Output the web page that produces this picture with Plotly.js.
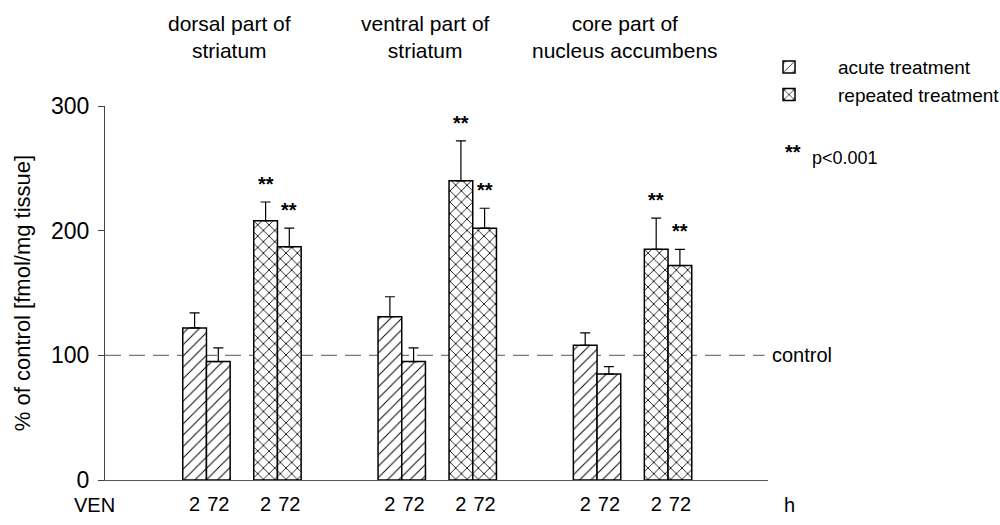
<!DOCTYPE html>
<html>
<head>
<meta charset="utf-8">
<script src="https://cdn.plot.ly/plotly-3.0.1.min.js"></script>
<style>html,body{margin:0;padding:0;background:#fff;}#chart{width:1000px;height:525px;}</style>
</head>
<body>
<div id="chart"></div>
<script>
// ---- data ----
const regions = ["dorsal part of<br>striatum", "ventral part of<br>striatum", "core part of<br>nucleus accumbens"];
const timeLabels = ["2", "72"];              // hours after VEN
const acuteMean = [122, 95, 131, 95, 108, 85];
const acuteErr  = [12, 11, 16, 11, 10, 6];
const repeatedMean = [208, 187, 240, 202, 185, 172];
const repeatedErr  = [15, 15, 32, 16, 25, 13];
const repeatedSig  = ["**", "**", "**", "**", "**", "**"];
const controlLevel = 100;

// ---- layout constants (axis units = pixels from plot left) ----
const FIRST = 89.6, REGION_STEP = 195.3, PAIR_STEP = 71, BAR_W = 23.7;
const FONT = "Liberation Sans, Arial, sans-serif";

function centers(j) {
  const out = [];
  for (let i = 0; i < regions.length; i++)
    for (let k = 0; k < timeLabels.length; k++)
      out.push(FIRST + i * REGION_STEP + j * PAIR_STEP + k * BAR_W);
  return out;
}
const xa = centers(0), xr = centers(1);

function barTrace(name, x, y, err, shape, size, sol) {
  return {
    type: "bar", name: name, x: x, y: y, width: BAR_W,
    marker: {color: "#fff", line: {color: "#000", width: 1.5},
             pattern: {shape: shape, fgcolor: "#000", bgcolor: "#fff", size: size, solidity: sol}},
    error_y: {type: "data", symmetric: false, array: err, arrayminus: err.map(() => 0),
              color: "#000", thickness: 1.2, width: 5},
    hoverinfo: "skip"
  };
}
const traces = [
  barTrace("acute treatment", xa, acuteMean, acuteErr, "/", 8, 0.12),
  barTrace("repeated treatment", xr, repeatedMean, repeatedErr, "x", 8, 0.2)
];

const tickvals = [], ticktext = [];
xa.concat(xr).forEach((v, idx) => { tickvals.push(v); ticktext.push(timeLabels[idx % 2]); });

const annotations = [];
regions.forEach((r, i) => {
  annotations.push({text: r, xref: "x", yref: "paper", x: FIRST + i * REGION_STEP + (PAIR_STEP + BAR_W) / 2 - 12 + (i === 2 ? 4 : 0),
    y: 1.184, xanchor: "center", yanchor: "middle", showarrow: false, font: {family: FONT, size: 21, color: "#000"}});
});
repeatedMean.forEach((v, i) => {
  annotations.push({text: "<b>" + repeatedSig[i] + "</b>", xref: "x", yref: "y", x: xr[i], y: v + repeatedErr[i],
    yanchor: "middle", yshift: 18, showarrow: false, font: {family: FONT, size: 20, color: "#000"}});
});
annotations.push({text: "control", xref: "paper", yref: "y", x: 1, xshift: 2, y: controlLevel, xanchor: "left",
  yanchor: "middle", showarrow: false, font: {family: FONT, size: 20, color: "#000"}});
annotations.push({text: "VEN", xref: "paper", yref: "paper", x: -0.05, y: -0.067, xanchor: "left", yanchor: "middle",
  showarrow: false, font: {family: FONT, size: 20, color: "#000"}});
annotations.push({text: "h", xref: "paper", yref: "paper", x: 1.021, y: -0.067, xanchor: "left", yanchor: "middle",
  showarrow: false, font: {family: FONT, size: 20, color: "#000"}});
annotations.push({text: "<b>**</b>", xref: "paper", yref: "paper", x: 1.0226, y: 0.877, xanchor: "left", yanchor: "middle",
  showarrow: false, font: {family: FONT, size: 20, color: "#000"}});
annotations.push({text: "p<0.001", xref: "paper", yref: "paper", x: 1.064, y: 0.862, xanchor: "left", yanchor: "middle",
  showarrow: false, font: {family: FONT, size: 18, color: "#000"}});

const layout = {
  width: 1000, height: 525,
  margin: {l: 105, r: 232, t: 106, b: 45, autoexpand: false},
  paper_bgcolor: "#fff", plot_bgcolor: "#fff",
  font: {family: FONT, color: "#000"},
  barmode: "overlay", bargap: 0,
  showlegend: true,
  legend: {x: 0.9578, y: 1.155, xanchor: "left", yanchor: "top", bgcolor: "rgba(0,0,0,0)", itemwidth: 88,
           font: {family: FONT, size: 19, color: "#000"}, tracegroupgap: 0},
  xaxis: {range: [0, 663], showgrid: false, zeroline: false, showline: true, linecolor: "#555", linewidth: 1,
          tickvals: tickvals, ticktext: ticktext, ticks: "", ticklabelstandoff: 6,
          tickfont: {family: FONT, size: 20, color: "#000"}},
  yaxis: {range: [0, 300], tickvals: [0, 100, 200, 300], showgrid: false, zeroline: false, showline: true,
          linecolor: "#444", linewidth: 1, ticks: "outside", ticklen: 6, tickcolor: "#444",
          ticklabelstandoff: 4, tickfont: {family: FONT, size: 23, color: "#000"},
          title: {text: "% of control [fmol/mg tissue]", standoff: 14, font: {family: FONT, size: 22, color: "#000"}}},
  shapes: [{type: "line", xref: "paper", yref: "y", x0: 0, x1: 0.995, y0: controlLevel, y1: controlLevel, layer: "below",
            line: {color: "#777", width: 1.2, dash: "16px,8px"}}],
  annotations: annotations
};
Plotly.newPlot("chart", traces, layout, {displayModeBar: false, staticPlot: true});
</script>
</body>
</html>
